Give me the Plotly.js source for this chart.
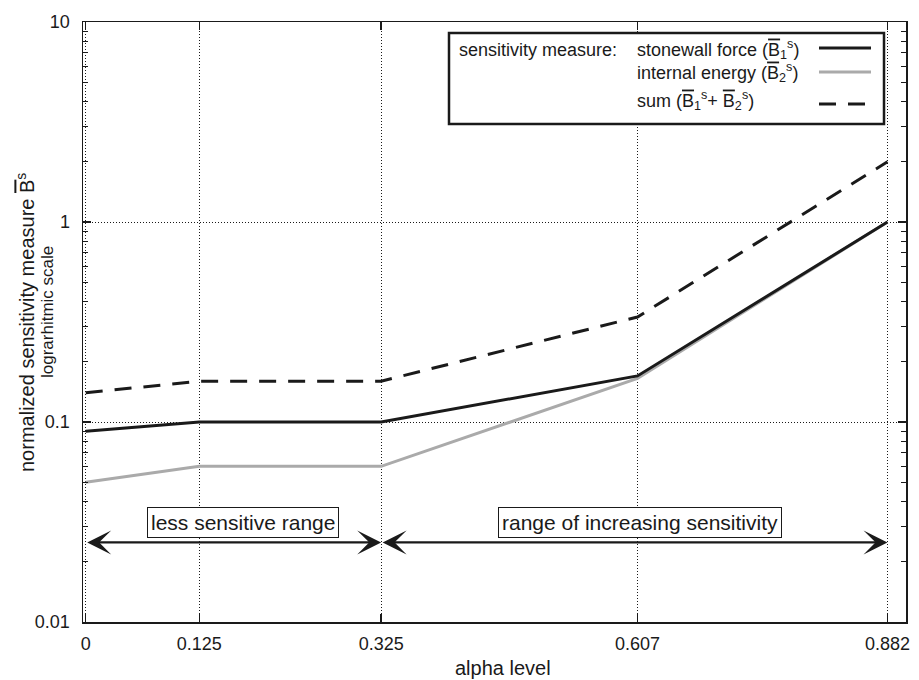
<!DOCTYPE html>
<html>
<head>
<meta charset="utf-8">
<script src="https://cdn.plot.ly/plotly-3.0.1.min.js"></script>
<style>html,body{margin:0;padding:0;background:#fff;}#chart{width:919px;height:680px;}</style>
</head>
<body>
<div id="chart"></div>
<script>
// ---- data ----
const alphaLevels = [0, 0.125, 0.325, 0.607, 0.882];
const alphaLabels = ['0', '0.125', '0.325', '0.607', '0.882'];
const stonewallForce = [0.09, 0.1, 0.1, 0.17, 1.0];
const internalEnergy = [0.05, 0.06, 0.06, 0.165, 1.0];
const sumMeasure = [0.14, 0.16, 0.16, 0.335, 2.0];
const rangeBounds = [0, 0.325, 0.882];
const rangeLabels = ['less sensitive range', 'range of increasing sensitivity'];
const arrowLevel = 0.025;
const seriesNames = ['stonewall force', 'internal energy', 'sum'];

const FONT = '"Liberation Sans", Arial, Helvetica, sans-serif';
const INK = '#1a1a1a';
const GRAY = '#aaaaaa';
const OB = "<span style='text-decoration:overline'>B</span>";

const traces = [
  {x: alphaLevels, y: internalEnergy, name: seriesNames[1], type: 'scatter', mode: 'lines',
   line: {color: GRAY, width: 3}},
  {x: alphaLevels, y: stonewallForce, name: seriesNames[0], type: 'scatter', mode: 'lines',
   line: {color: INK, width: 3}},
  {x: alphaLevels, y: sumMeasure, name: seriesNames[2], type: 'scatter', mode: 'lines',
   line: {color: INK, width: 3, dash: '17px,12px'}}
];

// plot area pixel helpers (for legend/decor placement only)
const PL = 83, PR = 906, PT = 22, PB = 622;
const px = X => (X - PL) / (PR - PL);
const py = Y => 1 - (Y - PT) / (PB - PT);

const annotations = [];
const shapes = [];

// range arrows and labels
const ly = Math.log10(arrowLevel);
for (let i = 0; i < rangeLabels.length; i++) {
  annotations.push({
    x: rangeBounds[i + 1], y: ly, ax: rangeBounds[i], ay: ly,
    xref: 'x', yref: 'y', axref: 'x', ayref: 'y',
    text: '', showarrow: true, arrowside: 'end+start',
    arrowhead: 3, startarrowhead: 3, arrowsize: 1.9, startarrowsize: 1.9,
    arrowwidth: 2.1, arrowcolor: INK, standoff: 0, startstandoff: 0
  });
  annotations.push({
    x: (rangeBounds[i] + rangeBounds[i + 1]) / 2, y: ly, xref: 'x', yref: 'y',
    xshift: i === 0 ? 10 : 6, yshift: 20,
    text: rangeLabels[i], showarrow: false,
    font: {family: FONT, size: 21, color: INK},
    bgcolor: '#ffffff', bordercolor: INK, borderwidth: 1, borderpad: 3
  });
}

// custom legend
shapes.push({type: 'rect', xref: 'paper', yref: 'paper',
  x0: px(449), x1: px(884), y0: py(124), y1: py(33),
  line: {color: INK, width: 2.5}, fillcolor: '#ffffff', layer: 'above'});
annotations.push({xref: 'paper', yref: 'paper', x: px(457), y: py(50), xanchor: 'left', yanchor: 'middle',
  text: 'sensitivity measure:', showarrow: false, font: {family: FONT, size: 18, color: INK}});
const legendRows = [
  {text: 'stonewall force (' + OB + '<sub>1</sub><sup>s</sup>)', y: 50, ly: 48, color: INK, dash: 'solid'},
  {text: 'internal energy (' + OB + '<sub>2</sub><sup>s</sup>)', y: 73, ly: 72, color: GRAY, dash: 'solid'},
  {text: 'sum (' + OB + '<sub>1</sub><sup>s</sup>+ ' + OB + '<sub>2</sub><sup>s</sup>)', y: 100, ly: 104, color: INK, dash: '17px,12px'}
];
legendRows.forEach(r => {
  annotations.push({xref: 'paper', yref: 'paper', x: px(635), y: py(r.y), xanchor: 'left', yanchor: 'middle',
    text: r.text, showarrow: false, font: {family: FONT, size: 18, color: INK}});
  shapes.push({type: 'line', xref: 'paper', yref: 'paper', x0: px(819), x1: px(871), y0: py(r.ly), y1: py(r.ly),
    line: {color: r.color, width: 3, dash: r.dash}, layer: 'above'});
});

// axis titles
annotations.push({xref: 'paper', yref: 'paper', x: px(503), y: py(668), xanchor: 'center', yanchor: 'middle',
  text: 'alpha level', showarrow: false, font: {family: FONT, size: 20, color: INK}});
annotations.push({xref: 'paper', yref: 'paper', x: px(25), y: py(323), xanchor: 'center', yanchor: 'middle',
  textangle: -90, text: 'normalized sensitivity measure ' + OB + '<sup>s</sup>', showarrow: false,
  font: {family: FONT, size: 20, color: INK}});
annotations.push({xref: 'paper', yref: 'paper', x: px(47), y: py(312), xanchor: 'center', yanchor: 'middle',
  textangle: -90, text: 'lograrhitmic scale', showarrow: false,
  font: {family: FONT, size: 17, color: INK}});

const axisCommon = {
  showline: true, linecolor: INK, linewidth: 1.5, mirror: 'ticks',
  ticks: 'inside', ticklen: 8, tickwidth: 1.5, tickcolor: INK,
  showgrid: true, gridcolor: INK, gridwidth: 1, griddash: '1px,2px',
  zeroline: false, tickfont: {family: FONT, size: 18, color: INK}
};

const layout = {
  width: 919, height: 680,
  margin: {l: PL, r: 919 - PR, t: PT, b: 680 - PB},
  paper_bgcolor: '#ffffff', plot_bgcolor: '#ffffff',
  showlegend: false,
  font: {family: FONT, color: INK},
  xaxis: Object.assign({}, axisCommon, {
    range: [-0.003, 0.9024], tickmode: 'array', tickvals: alphaLevels, ticktext: alphaLabels,
    ticklabelstandoff: 5
  }),
  yaxis: Object.assign({}, axisCommon, {
    type: 'log', range: [-2, 1], dtick: 1, tick0: 0,
    ticklabelstandoff: 8,
    minor: {dtick: 'D1', ticks: 'inside', ticklen: 5, tickwidth: 1, tickcolor: INK, showgrid: false}
  }),
  annotations: annotations,
  shapes: shapes
};

Plotly.newPlot('chart', traces, layout, {displayModeBar: false, staticPlot: true});
</script>
</body>
</html>
